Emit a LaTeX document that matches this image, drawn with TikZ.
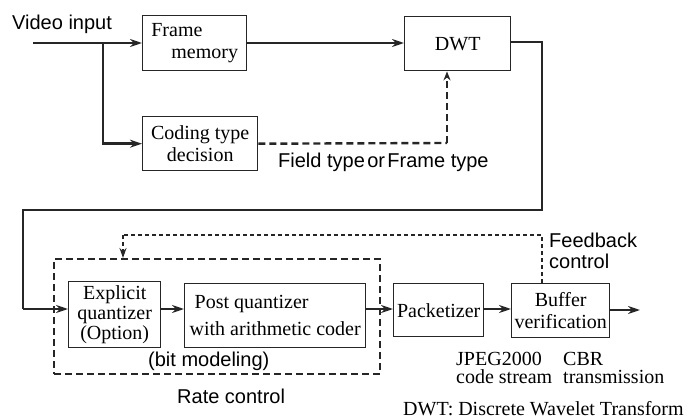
\documentclass[tikz,border=0pt]{standalone}
\usepackage{fontspec}
\setmainfont{Liberation Serif}
\newfontfamily\sansfont{Liberation Sans}
\usetikzlibrary{arrows.meta}
\begin{document}
\begin{tikzpicture}[x=1pt,y=-1pt,
  box/.style={draw=black!85,line width=1.4pt,inner sep=0pt,anchor=north west,
    font=\fontsize{20}{22}\selectfont},
  flow/.style={line width=2.6pt,draw=black!85},
  tip/.style={-{Stealth[length=12pt,width=8pt]}},
  thickdash/.style={line width=2.4pt,draw=black!85,dash pattern=on 7pt off 4pt},
  thindash/.style={line width=1.6pt,draw=black!85,dash pattern=on 4pt off 3pt},
  lab/.style={font=\sansfont\fontsize{20}{18}\selectfont,inner sep=0pt,anchor=base west},
  slab/.style={font=\fontsize{20}{18}\selectfont,inner sep=0pt,anchor=base west}]
\useasboundingbox (0,0) rectangle (693,420);

% blocks
\node[box,minimum width=104pt,minimum height=55pt,align=left] (fm) at (142,15)
  {Frame\\\hspace*{1em}memory};
\node[box,minimum width=106pt,minimum height=54pt] (dwt) at (404,16) {DWT};
\node[box,minimum width=115pt,minimum height=54pt,align=center] (ctd) at (142,116)
  {Coding type\\decision};
\node[draw=black!85,thickdash,minimum width=326pt,minimum height=115pt,anchor=north west,inner sep=0pt]
  (rc) at (53,258) {};
\node[box,minimum width=92pt,minimum height=66pt,align=center,
  font=\fontsize{20}{20}\selectfont] (eq) at (68,281)
  {Explicit\\quantizer\\(Option)};
\node[box,minimum width=181pt,minimum height=64pt,align=left,
  font=\fontsize{20}{27}\selectfont] (pq) at (184,283)
  {\hspace*{0.25em}Post quantizer\\with arithmetic coder};
\node[box,minimum width=90pt,minimum height=53pt] (pk) at (393,283) {Packetizer};
\node[box,minimum width=98pt,minimum height=54pt,align=center] (bv) at (511,283)
  {Buffer\\verification};

% free ends and corners of the connectors
\coordinate (vin) at (33,43);
\coordinate (split) at (103,43);
\coordinate (out) at (640,310);
\coordinate (dwtturn) at (542,42);
\coordinate (loopR) at (542,210);
\coordinate (loopL) at (23,210);
\coordinate (fbtop) at (542,235);
\coordinate (fbleft) at (123,235);
\coordinate (typeup) at (447,143);

% connectors
\draw[flow,tip] (vin) -- (fm.west |- vin);
\draw[flow,tip] (split) |- (ctd.west);
\draw[flow,tip] (fm.east |- vin) -- (dwt.west |- vin);
\draw[thickdash] (ctd.east) -- (typeup);
\draw[thickdash,-{Stealth[length=9pt,width=7pt]}] (typeup) -- (typeup |- dwt.south);
\draw[flow] (dwt.east |- dwtturn) -- (dwtturn) -- (loopR) -- (loopL) -- (loopL |- 0,309);
\draw[flow,tip] (loopL |- 0,309) -- (eq.west |- 0,309);
\draw[flow,tip] (eq.east |- 0,309) -- (pq.west |- 0,309);
\draw[flow,tip] (pq.east |- 0,309) -- (pk.west |- 0,309);
\draw[flow,tip] (pk.east |- 0,309) -- (bv.west |- 0,309);
\draw[flow,tip] (bv.east |- out) -- (out);
\draw[thindash] (bv.north -| fbtop) -- (fbtop) -- (fbleft);
\draw[thindash,-{Stealth[length=10pt,width=7pt]}] (fbleft) -- (fbleft |- rc.north);

% labels (multi-line ones are anchored at the baseline of their last line)
\node[lab] (lvin) at (12,30) {Video input};
\node[lab] (ltype) at (278,167) {Field type\hspace{0.12em}or\hspace{0.12em}Frame type};
\node[lab,align=left,font=\sansfont\fontsize{20}{20.5}\selectfont] (lfb) at (549,268)
  {Feedback\\control};
\node[lab] (lbit) at (148,366) {(bit modeling)};
\node[lab] (lrate) at (177,403) {Rate control};
\node[slab,align=left] (ljpeg) at (456,383) {JPEG2000\\code stream};
\node[slab,align=left] (lcbr) at (563,383) {CBR\\transmission};
\node[slab] (ldwt) at (403,415) {DWT: Discrete Wavelet Transform};
\end{tikzpicture}
\end{document}
